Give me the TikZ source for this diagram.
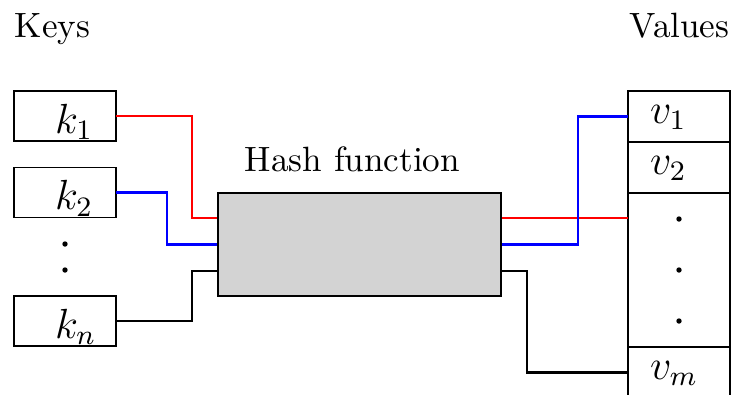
\documentclass[tikz,border=0pt]{standalone}
\usetikzlibrary{calc, positioning}
\definecolor{hashGrey}{HTML}{D3D3D3}
\tikzset{
  cell/.style     = {draw, thin, outer sep=0pt, inner ysep=0pt, align=left, font=\large},
  keycell/.style  = {cell, minimum width=10.2mm, minimum height=5mm, inner xsep=4.1mm,
                     text width=2mm, text height=9.8pt, text depth=0pt},
  valcell/.style  = {cell, minimum width=10.2mm, minimum height=5.1mm, inner xsep=2.2mm,
                     text width=5.8mm, text height=4pt, text depth=0pt},
  wire/.style     = {line width=0.7pt},
  lbl/.style      = {inner sep=0pt},
}

\begin{document}
\begin{tikzpicture}[
  hashbox/.style = {draw, line width=0.7pt, fill=hashGrey, minimum width=28.3mm, minimum height=10.3mm},
]
\useasboundingbox (0,0) rectangle (7.33,3.94);

% ---- keys on the left ----------------------------------------------------
\node[lbl] (keys) at (0.525,3.646) {Keys};
\node[keycell] (k1) at (0.65,2.78) {$k_1$};
\node[keycell] (k2) at (0.65,2.015) {$k_2$};
\node[keycell] (kn) at (0.65,0.73) {$k_n$};
\foreach \y in {1.50,1.24} {
  \fill (0.65,\y) circle (0.027);
}

% ---- hash function in the middle -----------------------------------------
\node[hashbox] (hash) at (3.595,1.495) {};
\node[lbl] (hashlbl) at (3.525,2.352) {Hash function};
\foreach \i/\f in {1/0.25, 2/0.5, 3/0.75} {
  \coordinate (hin\i)  at ($(hash.north west)!\f!(hash.south west)$);
  \coordinate (hout\i) at ($(hash.north east)!\f!(hash.south east)$);
}

% ---- values on the right -------------------------------------------------
\node[lbl] (values) at (6.795,3.68) {Values};
\node[valcell] (v1) at (6.79,2.775) {$v_1$};
\node[valcell, below=0pt of v1] (v2) {$v_2$};
\node[valcell, minimum height=15.4mm, below=0pt of v2] (vdots) {};
\node[valcell, below=0pt of vdots] (vm) {$v_m$};
\foreach \dy in {-0.51,0,0.51} {
  \fill ($(vdots.center)+(0,\dy)$) circle (0.027);
}

% ---- wires ---------------------------------------------------------------
\draw[wire, red]  (k1.east) -- ++(0.76,0) |- (hin1);
\draw[wire, blue] (k2.east) -- ++(0.51,0) |- (hin2);
\draw[wire]       (kn.east) -- ++(0.76,0) |- (hin3);

\draw[wire, red]  (hout1) -- (hout1 -| vdots.west);
\draw[wire, blue] (hout2) -- ++(0.76,0) |- (v1.west);
\draw[wire]       (hout3) -- ++(0.25,0) |- (vm.west);

\end{tikzpicture}
\end{document}
